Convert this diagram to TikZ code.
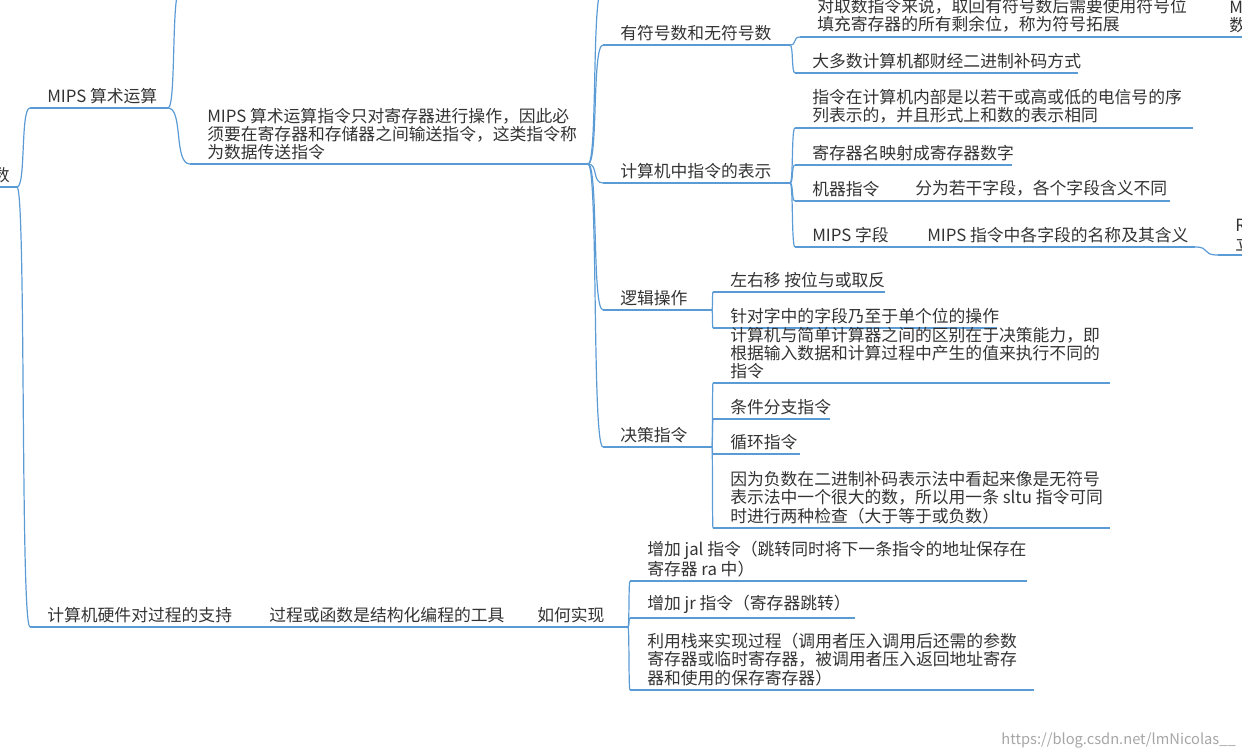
\documentclass[tikz,border=0pt]{standalone}
\usepackage{fontspec}
\setmainfont{Noto Sans CJK SC}
\usetikzlibrary{calc}
\definecolor{lc}{HTML}{5B9BD5}
\definecolor{tc}{HTML}{333333}
\tikzset{
  txt/.style={anchor=south west,inner sep=0pt,text=tc,font=\fontsize{12.6pt}{13.6pt}\selectfont,align=left},
  uline/.style={draw=lc,line width=0.9pt},
}
\newcommand{\itm}[5]{% name x1 x2 y text
  \coordinate (#1-s) at (#2,#4);
  \coordinate (#1-e) at (#3,#4);
  \draw[uline] (#1-s) -- (#1-e);
  \node[txt] (#1) at ($(#1-s)+(17,-4)$) {#5};
}
\newcommand{\conn}[2]{%
  \draw[uline] let \p1=(#1), \p2=(#2) in
   (\p1) .. controls ({\x1+0.7*(\x2-\x1)},\y1) and ({\x1+0.25*(\x2-\x1)},\y2) .. (\p2);
}
\begin{document}
\begin{tikzpicture}[x=0.75pt,y=-0.75pt]
\useasboundingbox (0,0) rectangle (1242,756);
\clip (0,0) rectangle (1242,756);
% root
\coordinate (root-s) at (-20,187);
\coordinate (root-e) at (17,187);
\draw[uline] (root-s) -- (root-e);
\node[txt,anchor=south east] (root) at (10,183) {数};
% level 1
\itm{arith}{30}{168}{108}{MIPS 算术运算}
\itm{proc}{30}{252}{627}{计算机硬件对过程的支持}
\conn{root-e}{arith-s}
\conn{root-e}{proc-s}
\coordinate (arithup) at (180,-10);
\conn{arith-e}{arithup}
% big
\itm{big}{190}{588}{164}{MIPS 算术运算指令只对寄存器进行操作，因此必\\须要在寄存器和存储器之间输送指令，这类指令称\\为数据传送指令}
\conn{arith-e}{big-s}
\itm{sign}{603}{790}{45}{有符号数和无符号数}
\itm{rep}{603}{790}{183}{计算机中指令的表示}
\itm{logic}{603}{712}{310}{逻辑操作}
\itm{dec}{603}{712}{447}{决策指令}
\coordinate (bigup) at (602,-10);
\conn{big-e}{bigup}
\conn{big-e}{sign-s}
\conn{big-e}{rep-s}
\conn{big-e}{logic-s}
\conn{big-e}{dec-s}
% sign children
\itm{sg1}{800}{1215}{37}{对取数指令来说，取回有符号数后需要使用符号位\\填充寄存器的所有剩余位，称为符号拓展}
\itm{sg2}{795}{1078}{73}{大多数计算机都财经二进制补码方式}
\conn{sign-e}{sg1-s}
\conn{sign-e}{sg2-s}
\itm{sg3}{1212}{1260}{37}{MI\\数}
\conn{sg1-e}{sg3-s}
% rep children
\itm{r1}{795}{1193}{128}{指令在计算机内部是以若干或高或低的电信号的序\\列表示的，并且形式上和数的表示相同}
\itm{r2}{795}{1012}{165}{寄存器名映射成寄存器数字}
\itm{r3}{795}{898}{201}{机器指令}
\itm{r3a}{898}{1170}{201}{分为若干字段，各个字段含义不同}
\itm{r4}{795}{910}{247}{MIPS 字段}
\itm{r4a}{910}{1195}{247}{MIPS 指令中各字段的名称及其含义}
\itm{r4b}{1218}{1260}{255}{R\\立}
\conn{rep-e}{r1-s}
\conn{rep-e}{r2-s}
\conn{rep-e}{r3-s}
\conn{rep-e}{r4-s}
\conn{r4a-e}{r4b-s}
% logic
\itm{l1}{713}{885}{292}{左右移 按位与或取反}
\itm{l2}{713}{997}{328}{针对字中的字段乃至于单个位的操作}
\conn{logic-e}{l1-s}
\conn{logic-e}{l2-s}
% decisions
\itm{d1}{713}{1110}{383}{计算机与简单计算器之间的区别在于决策能力，即\\根据输入数据和计算过程中产生的值来执行不同的\\指令}
\itm{d2}{713}{830}{419}{条件分支指令}
\itm{d3}{713}{800}{454}{循环指令}
\itm{d4}{713}{1110}{528}{因为负数在二进制补码表示法中看起来像是无符号\\表示法中一个很大的数，所以用一条 sltu 指令可同\\时进行两种检查（大于等于或负数）}
\conn{dec-e}{d1-s}
\conn{dec-e}{d2-s}
\conn{dec-e}{d3-s}
\conn{dec-e}{d4-s}
% procedures
\itm{p1}{252}{520}{627}{过程或函数是结构化编程的工具}
\itm{p2}{520}{628}{627}{如何实现}
\itm{h1}{630}{1027}{581}{增加 jal 指令（跳转同时将下一条指令的地址保存在\\寄存器 ra 中）}
\itm{h2}{630}{855}{618}{增加 jr 指令（寄存器跳转）}
\itm{h3}{630}{1034}{690}{利用栈来实现过程（调用者压入调用后还需的参数\\寄存器或临时寄存器，被调用者压入返回地址寄存\\器和使用的保存寄存器）}
\conn{p2-e}{h1-s}
\conn{p2-e}{h2-s}
\conn{p2-e}{h3-s}
\node[anchor=south east,inner sep=0pt,text=black!35,font=\fontsize{11pt}{12pt}\selectfont] (wm) at (1236,748) {https://blog.csdn.net/lmNicolas\_\_};
\end{tikzpicture}
\end{document}
